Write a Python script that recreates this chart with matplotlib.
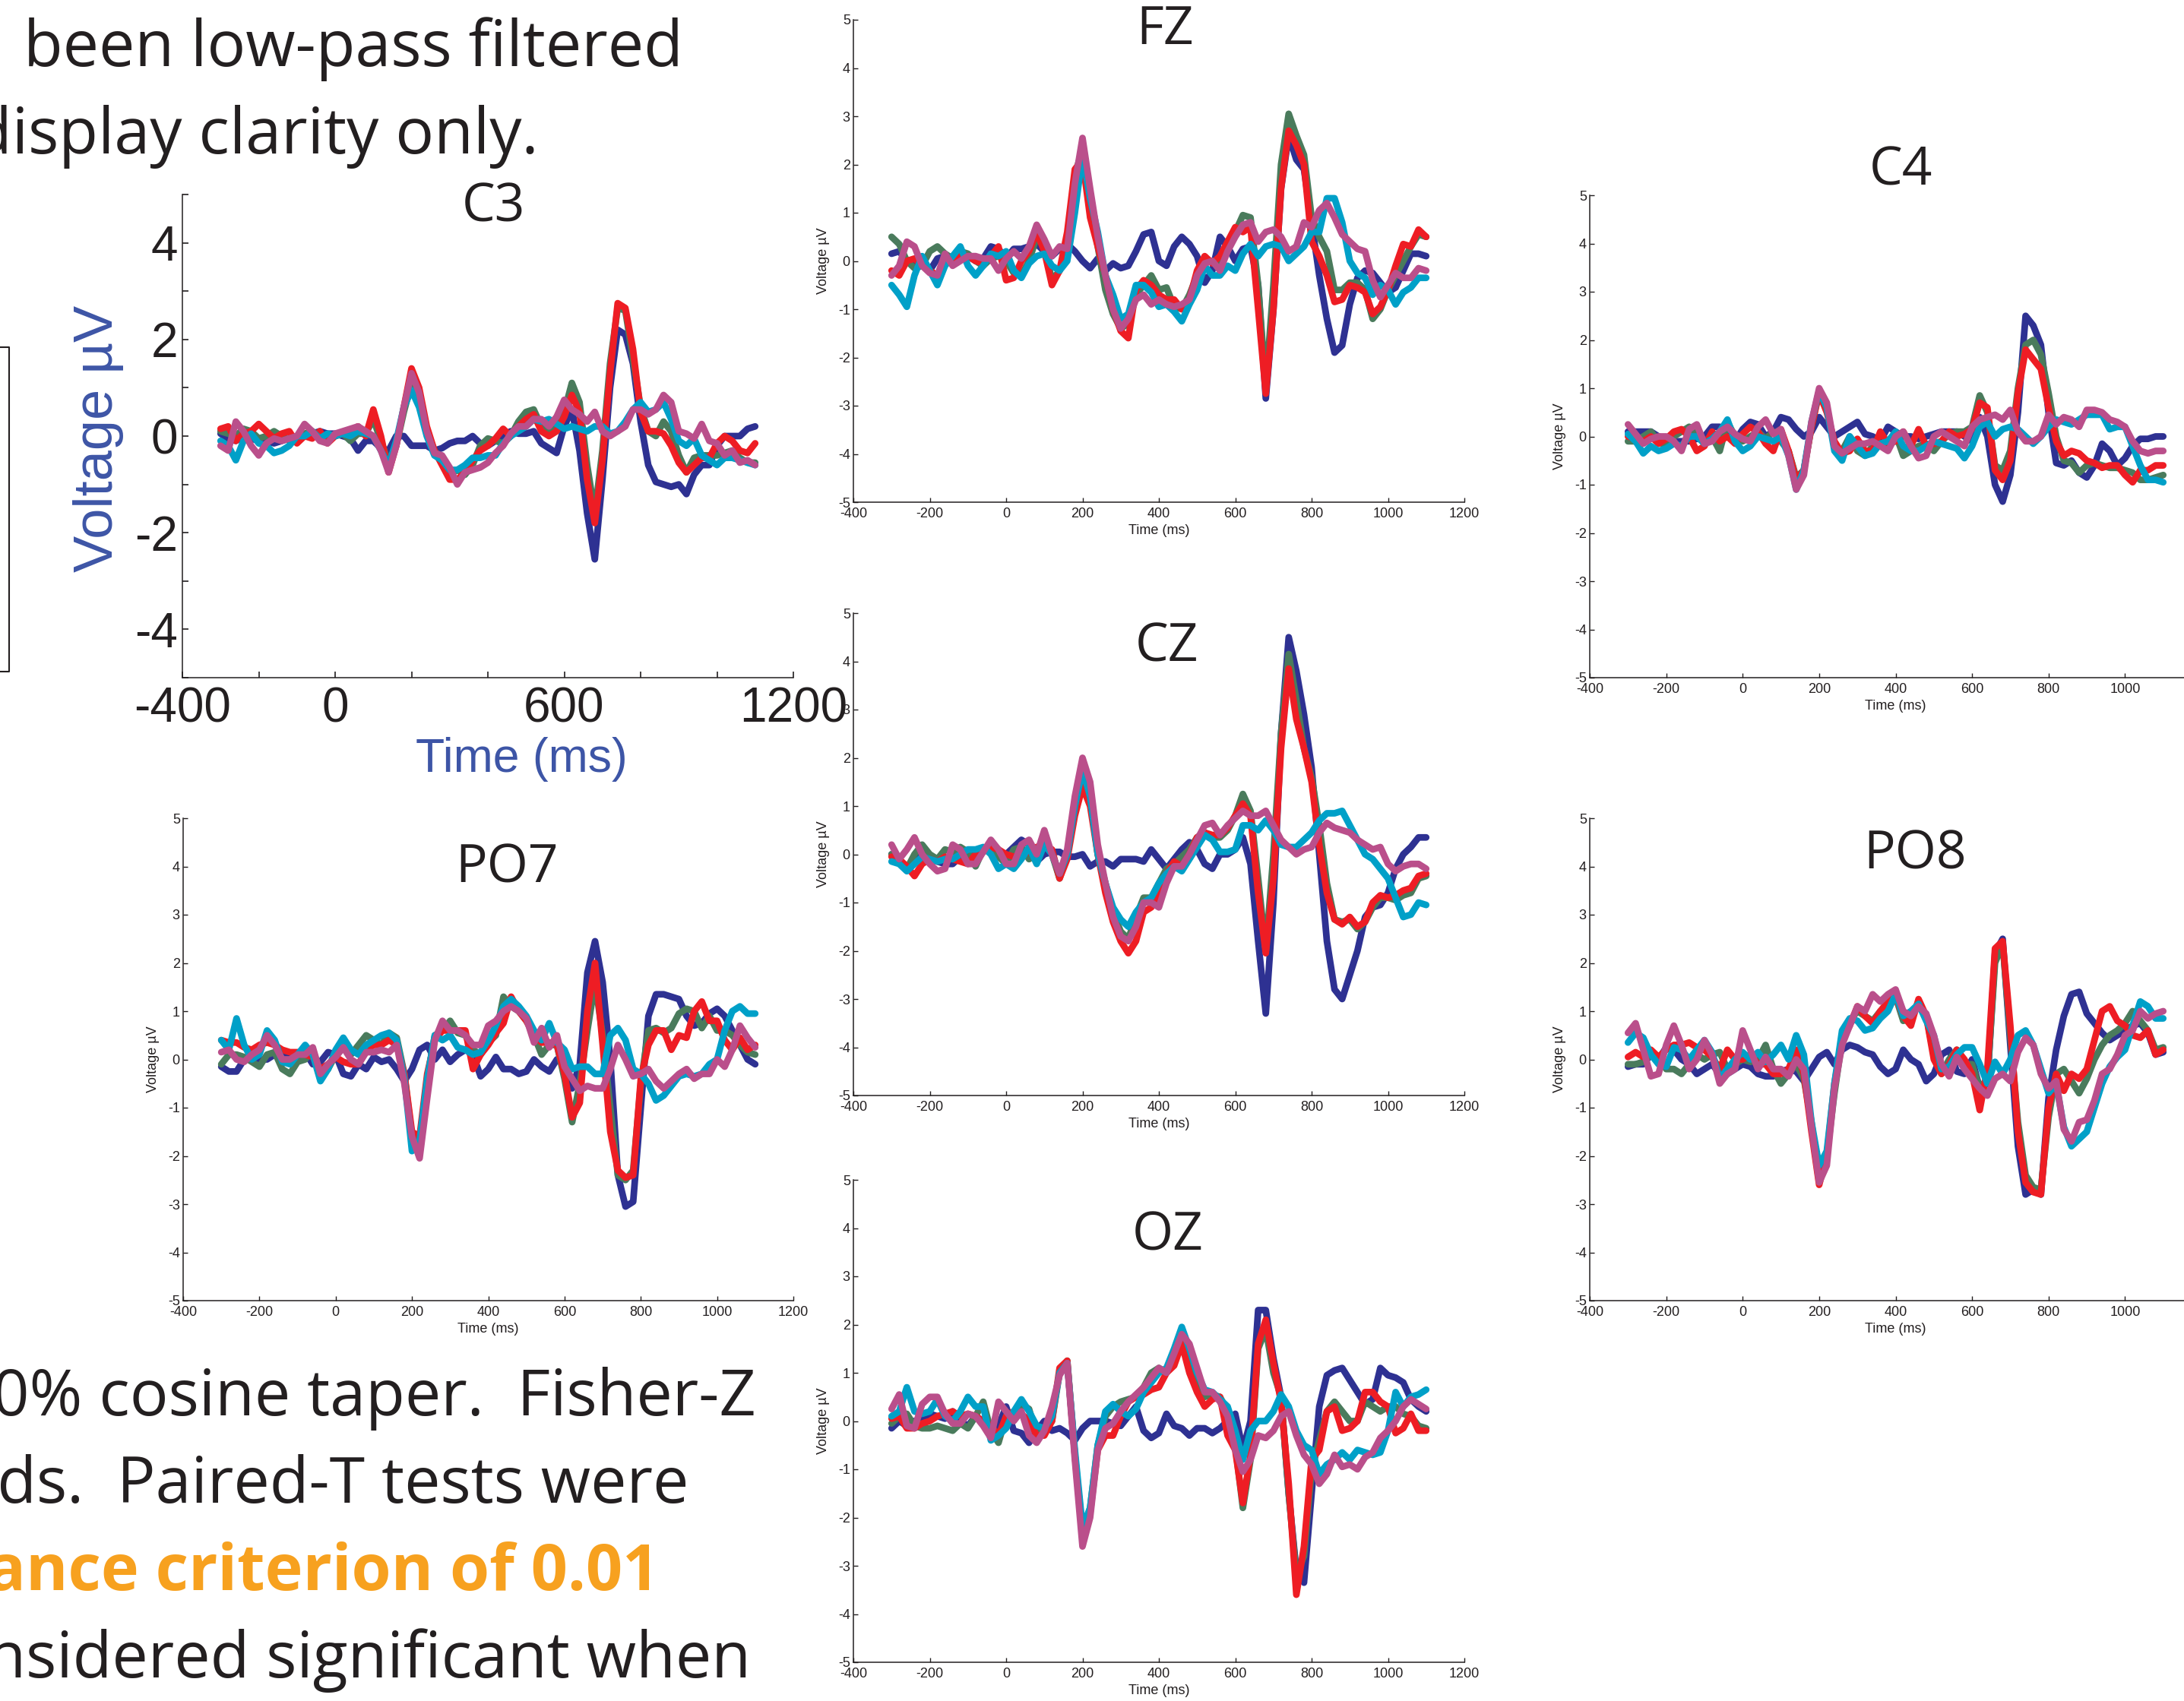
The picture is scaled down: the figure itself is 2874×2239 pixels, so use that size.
import numpy as np
import matplotlib
matplotlib.use('Agg')
import matplotlib.pyplot as plt
from matplotlib.lines import Line2D

W, H = 2874, 2239
plt.rcParams['axes.unicode_minus'] = False
plt.rcParams['font.family'] = ['Liberation Sans', 'DejaVu Sans']

# ---------------- data ----------------
time_ms = np.arange(-300, 1101, 20)

# FZ
FZ_blue = [0.15, 0.2, 0.0, -0.1, 0.0, -0.2, 0.05, 0.1, 0.05, 0.15,
           0.1, 0.0, 0.05, 0.3, 0.25, 0.05, 0.25, 0.25, 0.3, 0.35,
           0.2, 0.1, 0.25, 0.35, 0.2, 0.0, -0.15, 0.05, -0.2, -0.05,
           -0.15, -0.1, 0.2, 0.55, 0.6, 0.0, -0.1, 0.3, 0.5, 0.35,
           0.1, -0.45, -0.2, 0.5, 0.3, 0.0, 0.25, 0.3, -0.5, -2.85,
           -1.0, 1.5, 2.6, 2.1, 1.9, 0.8, -0.3, -1.2, -1.9, -1.75,
           -0.9, -0.35, -0.2, -0.25, -0.45, -0.65, -0.55, -0.2, 0.15, 0.15, 0.1]
FZ_green = [0.5, 0.35, 0.0, -0.15, -0.1, 0.2, 0.3, 0.15, 0.05, 0.2,
            0.15, 0.0, -0.1, 0.05, 0.1, 0.0, -0.25, -0.3, 0.0, 0.5,
            0.3, -0.4, -0.2, 0.3, 1.8, 2.3, 1.2, 0.3, -0.6, -1.1,
            -1.4, -1.3, -0.7, -0.5, -0.3, -0.6, -0.55, -0.95, -1.0, -0.7,
            -0.3, 0.0, 0.0, -0.1, 0.3, 0.6, 0.95, 0.9, -0.5, -2.6,
            -0.5, 2.0, 3.05, 2.6, 2.2, 0.9, 0.5, 0.2, -0.6, -0.6,
            -0.45, -0.45, -0.6, -1.2, -1.0, -0.6, -0.3, 0.0, 0.3, 0.55, 0.5]
FZ_red = [-0.2, -0.3, 0.0, 0.05, -0.1, -0.2, -0.3, -0.05, 0.05, 0.1,
          0.1, 0.0, -0.05, 0.1, 0.3, -0.4, -0.35, 0.0, 0.2, 0.6,
          0.2, -0.5, -0.2, 0.6, 1.9, 2.1, 0.9, 0.3, -0.3, -1.0,
          -1.45, -1.6, -0.6, -0.4, -0.5, -0.7, -0.8, -0.8, -1.0, -0.8,
          -0.2, 0.1, -0.05, 0.1, 0.4, 0.7, 0.6, 0.7, -1.0, -2.75,
          -1.0, 1.5, 2.7, 2.4, 2.0, 0.4, 0.1, -0.3, -0.85, -0.8,
          -0.5, -0.55, -0.65, -1.1, -0.95, -0.6, -0.1, 0.35, 0.3, 0.65, 0.5]
FZ_cyan = [-0.5, -0.7, -0.95, -0.3, 0.1, -0.2, -0.5, -0.1, 0.1, 0.3,
           -0.1, -0.3, -0.1, 0.15, 0.1, 0.2, -0.2, -0.35, -0.05, 0.1,
           0.15, -0.1, -0.2, 0.0, 1.0, 2.2, 1.3, 0.6, -0.3, -0.7,
           -1.2, -1.1, -0.5, -0.5, -0.65, -0.95, -0.9, -1.05, -1.25, -0.9,
           -0.6, -0.1, -0.3, -0.3, -0.1, -0.2, 0.15, 0.35, 0.1, 0.3,
           0.35, 0.3, 0.0, 0.15, 0.3, 0.6, 0.6, 1.3, 1.3, 0.8,
           0.0, -0.25, -0.35, -0.7, -0.5, -0.6, -0.9, -0.65, -0.55, -0.35, -0.35]
FZ_magenta = [-0.3, -0.1, 0.4, 0.3, -0.1, -0.25, -0.3, 0.15, -0.1, 0.0,
              0.1, 0.1, 0.05, 0.05, -0.2, 0.05, 0.2, 0.05, 0.3, 0.75,
              0.45, 0.1, 0.3, 0.25, 1.6, 2.55, 1.5, 0.5, -0.3, -1.0,
              -1.4, -1.2, -0.8, -0.7, -0.9, -0.8, -0.9, -0.95, -0.9, -0.8,
              -0.3, -0.05, 0.0, -0.2, 0.2, 0.5, 0.75, 0.8, 0.4, 0.6,
              0.65, 0.5, 0.2, 0.3, 0.8, 0.7, 1.05, 1.2, 0.9, 0.55,
              0.4, 0.25, 0.2, -0.4, -0.75, -0.5, -0.25, -0.35, -0.35, -0.15, -0.2]

# C3
C3_blue = [0.05, -0.05, -0.1, 0.0, -0.05, -0.1, -0.1, -0.15, -0.1, -0.05,
           0.0, 0.0, 0.05, 0.1, 0.05, 0.05, 0.0, -0.05, -0.3, -0.1,
           -0.1, -0.25, -0.3, 0.0, 0.0, -0.2, -0.2, -0.2, -0.3, -0.25,
           -0.15, -0.1, -0.1, 0.0, -0.15, -0.2, -0.1, 0.0, 0.1, 0.05,
           0.05, 0.1, -0.15, -0.25, -0.35, 0.2, 0.55, -0.3, -1.6, -2.55,
           -0.9, 1.0, 2.2, 2.1, 1.5, 0.3, -0.6, -0.95, -1.0, -1.05,
           -1.0, -1.2, -0.8, -0.6, -0.6, -0.2, 0.0, 0.0, 0.0, 0.15, 0.2]
C3_green = [0.1, 0.05, 0.0, 0.15, 0.1, -0.05, 0.0, 0.1, 0.0, -0.1,
            -0.05, 0.05, 0.1, 0.0, -0.05, 0.0, 0.05, -0.1, 0.05, 0.05,
            0.35, -0.1, -0.55, -0.2, 0.5, 1.1, 0.8, 0.1, -0.3, -0.5,
            -0.8, -0.7, -0.8, -0.6, -0.2, -0.05, -0.1, -0.15, 0.0, 0.3,
            0.5, 0.55, 0.2, 0.05, 0.2, 0.5, 1.1, 0.7, -0.6, -1.6,
            -0.3, 1.5, 2.65, 2.6, 1.6, 0.6, 0.1, 0.0, 0.3, 0.1,
            -0.4, -0.75, -0.45, -0.4, -0.4, -0.4, -0.35, -0.3, -0.45, -0.55, -0.55]
C3_red = [0.15, 0.2, -0.1, 0.05, 0.1, 0.25, 0.1, -0.05, 0.05, 0.1,
          -0.15, 0.0, -0.05, 0.1, -0.15, 0.0, 0.05, 0.1, 0.2, 0.0,
          0.55, 0.0, -0.75, -0.2, 0.6, 1.4, 1.0, 0.2, -0.3, -0.6,
          -0.9, -0.9, -0.75, -0.5, -0.3, -0.2, -0.05, 0.15, 0.0, 0.2,
          0.35, 0.45, 0.1, 0.0, 0.1, 0.4, 0.85, 0.5, -0.9, -1.8,
          -0.5, 1.3, 2.75, 2.65, 1.8, 0.5, 0.1, 0.1, 0.05, -0.2,
          -0.55, -0.75, -0.6, -0.45, -0.45, -0.15, 0.0, -0.1, -0.3, -0.35, -0.15]
C3_cyan = [-0.1, -0.2, -0.5, -0.1, 0.05, -0.15, -0.2, -0.35, -0.3, -0.2,
           0.0, 0.0, 0.1, -0.05, 0.05, 0.0, 0.05, 0.0, 0.1, 0.05,
           0.0, -0.3, -0.6, -0.1, 0.6, 0.95, 0.6, 0.0, -0.4, -0.5,
           -0.7, -0.7, -0.6, -0.45, -0.45, -0.4, -0.4, -0.15, 0.0, 0.1,
           0.2, 0.35, 0.3, 0.35, 0.25, 0.15, 0.2, 0.15, 0.1, 0.2,
           0.2, 0.05, 0.1, 0.3, 0.55, 0.7, 0.5, 0.55, 0.7, 0.35,
           -0.1, -0.2, -0.05, -0.4, -0.5, -0.6, -0.45, -0.45, -0.5, -0.55, -0.6]
C3_magenta = [-0.2, -0.3, 0.3, 0.1, -0.2, -0.4, -0.15, -0.05, -0.1, -0.05,
              0.0, 0.25, 0.1, -0.1, -0.15, 0.05, 0.1, 0.15, 0.2, 0.1,
              0.0, -0.3, -0.75, -0.2, 0.6, 1.3, 0.9, 0.1, -0.35, -0.4,
              -0.65, -1.0, -0.75, -0.7, -0.65, -0.55, -0.35, -0.2, 0.05, 0.2,
              0.2, 0.35, 0.35, 0.2, 0.4, 0.75, 0.55, 0.45, 0.3, 0.5,
              0.1, 0.0, 0.1, 0.2, 0.55, 0.55, 0.45, 0.55, 0.85, 0.7,
              0.1, 0.05, -0.05, 0.25, -0.1, -0.15, -0.4, -0.3, -0.55, -0.5, -0.6]

# C4
C4_blue = [0.1, 0.1, 0.1, 0.1, 0.0, -0.05, -0.1, -0.1, -0.1, -0.05,
           0.0, 0.2, 0.2, 0.0, -0.1, 0.15, 0.3, 0.25, 0.0, 0.1,
           0.4, 0.35, 0.15, 0.0, 0.1, 0.4, 0.2, 0.0, 0.1, 0.2,
           0.3, 0.05, 0.0, -0.1, 0.2, 0.1, 0.0, 0.0, -0.05, 0.0,
           0.05, 0.1, 0.1, 0.1, 0.0, -0.1, 0.4, 0.0, -1.0, -1.35,
           -0.8, 0.5, 2.5, 2.3, 1.9, 0.5, -0.55, -0.6, -0.5, -0.75,
           -0.85, -0.6, -0.15, -0.3, -0.6, -0.45, -0.2, -0.05, -0.05, 0.0, 0.0]
C4_green = [-0.1, -0.1, 0.0, 0.1, -0.1, -0.2, 0.0, 0.1, 0.2, 0.0,
            -0.1, 0.0, -0.3, 0.3, 0.0, -0.1, 0.0, 0.1, -0.05, 0.1,
            -0.1, -0.3, -0.85, -0.7, 0.2, 0.95, 0.6, -0.2, -0.3, 0.0,
            -0.3, -0.4, -0.2, -0.15, -0.1, 0.05, -0.4, -0.3, -0.2, -0.15,
            -0.3, -0.1, 0.05, 0.1, 0.1, 0.2, 0.85, 0.5, -0.6, -0.7,
            -0.3, 1.0, 1.9, 2.0, 1.7, 0.9, 0.0, -0.5, -0.55, -0.75,
            -0.6, -0.55, -0.6, -0.65, -0.65, -0.7, -0.75, -0.9, -0.9, -0.85, -0.8]
C4_red = [0.0, -0.05, -0.1, 0.0, -0.15, -0.05, 0.1, 0.15, 0.0, -0.3,
          -0.2, 0.1, -0.1, 0.0, -0.15, 0.05, 0.2, 0.1, -0.15, -0.3,
          0.15, -0.3, -0.9, -0.7, 0.2, 0.9, 0.5, -0.1, -0.35, -0.3,
          -0.05, -0.3, -0.3, 0.1, -0.15, -0.1, 0.1, -0.2, 0.15, -0.2,
          -0.15, -0.1, 0.1, 0.0, 0.05, 0.15, 0.7, 0.6, -0.7, -0.9,
          -0.5, 0.9, 1.8, 1.6, 1.4, 0.6, -0.1, -0.4, -0.3, -0.35,
          -0.5, -0.55, -0.65, -0.6, -0.6, -0.8, -0.95, -0.7, -0.7, -0.6, -0.6]
C4_cyan = [0.05, -0.1, -0.35, -0.2, -0.3, -0.25, -0.15, -0.2, 0.0, 0.0,
           -0.15, -0.05, 0.1, 0.35, -0.1, -0.3, -0.2, 0.0, -0.05, -0.1,
           0.0, -0.4, -1.1, -0.7, 0.3, 0.95, 0.6, -0.3, -0.5, 0.0,
           -0.2, -0.4, -0.35, -0.15, -0.1, 0.1, -0.2, -0.3, -0.3, -0.2,
           -0.1, -0.15, -0.2, -0.25, -0.45, -0.2, 0.2, 0.3, 0.0, 0.15,
           0.2, 0.15, 0.0, -0.15, 0.0, 0.2, 0.35, 0.3, 0.25, 0.35,
           0.45, 0.45, 0.45, 0.15, 0.2, 0.2, -0.2, -0.6, -0.9, -0.9, -0.95]
C4_magenta = [0.25, 0.05, -0.15, -0.05, 0.0, 0.0, -0.1, -0.3, 0.15, 0.25,
              -0.15, -0.1, 0.1, 0.2, 0.05, -0.05, -0.1, 0.2, 0.35, 0.05,
              0.15, -0.4, -1.1, -0.8, 0.3, 1.0, 0.7, -0.2, -0.35, -0.25,
              -0.15, -0.15, -0.1, -0.2, -0.3, 0.0, 0.1, -0.2, -0.45, -0.4,
              0.0, 0.1, 0.0, -0.1, -0.2, 0.2, 0.35, 0.4, 0.45, 0.35,
              0.55, 0.1, -0.1, -0.1, 0.0, 0.45, 0.25, 0.4, 0.35, 0.2,
              0.55, 0.55, 0.5, 0.35, 0.3, 0.2, -0.1, -0.3, -0.35, -0.3, -0.3]

# CZ
CZ_blue = [0.0, -0.15, -0.3, -0.1, 0.05, -0.05, -0.15, -0.2, -0.2, -0.05,
           0.0, 0.05, 0.1, 0.1, 0.05, 0.0, 0.15, 0.3, 0.2, -0.15,
           0.0, 0.05, 0.05, -0.05, -0.05, 0.0, -0.25, -0.15, -0.15, -0.25,
           -0.1, -0.1, -0.1, -0.15, 0.1, -0.1, -0.3, -0.1, 0.1, 0.25,
           0.1, -0.2, -0.3, 0.0, 0.0, 0.1, 0.35, -0.2, -1.8, -3.3,
           -1.0, 2.5, 4.5, 3.8, 2.9, 1.8, 0.0, -1.8, -2.8, -3.0,
           -2.5, -2.0, -1.3, -1.1, -1.05, -0.8, -0.3, 0.0, 0.15, 0.35, 0.35]
CZ_green = [0.0, -0.15, -0.3, 0.0, 0.2, 0.0, -0.1, 0.1, 0.05, 0.15,
            0.05, -0.25, 0.1, 0.1, -0.05, -0.2, 0.1, 0.15, -0.1, 0.0,
            0.3, 0.0, -0.5, 0.0, 1.0, 1.8, 1.2, 0.0, -0.6, -1.2,
            -1.6, -1.75, -1.3, -0.9, -0.9, -0.6, -0.3, -0.2, -0.05, 0.1,
            0.35, 0.45, 0.35, 0.35, 0.5, 0.8, 1.25, 0.9, -0.5, -2.0,
            0.0, 2.5, 4.15, 3.2, 2.2, 1.6, 0.6, -0.6, -1.35, -1.4,
            -1.35, -1.55, -1.4, -1.1, -0.9, -0.9, -0.95, -0.85, -0.8, -0.5, -0.45]
CZ_red = [-0.05, -0.1, -0.25, -0.45, -0.2, -0.1, -0.15, -0.05, -0.1, -0.15,
          -0.2, 0.0, 0.05, 0.15, 0.1, 0.0, -0.05, 0.0, 0.05, 0.15,
          0.2, 0.1, -0.5, -0.1, 0.8, 1.4, 1.0, 0.0, -0.8, -1.4,
          -1.8, -2.05, -1.8, -1.2, -1.1, -0.8, -0.4, -0.15, -0.25, 0.0,
          0.35, 0.45, 0.4, 0.4, 0.55, 0.8, 1.05, 0.8, -0.8, -2.05,
          -0.5, 2.2, 3.85, 2.8, 2.2, 1.5, 0.2, -0.8, -1.35, -1.45,
          -1.3, -1.5, -1.4, -1.0, -0.85, -0.9, -0.85, -0.75, -0.7, -0.45, -0.4]
CZ_cyan = [-0.15, -0.2, -0.35, -0.2, -0.05, -0.1, -0.15, -0.1, -0.1, 0.0,
           0.1, 0.1, 0.15, 0.0, -0.3, -0.2, -0.3, -0.1, 0.15, -0.2,
           0.2, 0.0, -0.4, 0.0, 1.0, 1.75, 1.2, 0.0, -0.6, -1.1,
           -1.35, -1.5, -1.2, -1.0, -0.9, -0.6, -0.4, -0.25, -0.35, -0.1,
           0.15, 0.4, 0.3, 0.05, 0.05, 0.1, 0.6, 0.6, 0.5, 0.7,
           0.5, 0.2, 0.15, 0.15, 0.3, 0.45, 0.7, 0.85, 0.85, 0.9,
           0.6, 0.3, 0.0, -0.1, -0.3, -0.5, -0.9, -1.3, -1.25, -1.0, -1.05]
CZ_magenta = [0.2, -0.1, 0.1, 0.35, 0.0, -0.2, -0.35, -0.3, 0.2, 0.1,
              -0.2, -0.2, 0.05, 0.3, 0.1, -0.2, -0.2, 0.2, 0.3, 0.0,
              0.5, 0.0, -0.4, 0.1, 1.2, 2.0, 1.5, 0.2, -0.6, -1.3,
              -1.7, -1.8, -1.5, -1.0, -1.0, -1.1, -0.6, -0.25, -0.25, 0.0,
              0.3, 0.6, 0.65, 0.4, 0.6, 0.75, 0.9, 0.8, 0.8, 0.9,
              0.6, 0.3, 0.15, 0.0, 0.1, 0.15, 0.45, 0.65, 0.55, 0.5,
              0.45, 0.3, 0.2, 0.1, 0.15, -0.2, -0.35, -0.25, -0.2, -0.2, -0.3]

# PO7
PO7_blue = [-0.15, -0.25, -0.25, 0.0, 0.1, 0.0, 0.0, 0.1, 0.1, 0.05,
            0.0, 0.15, -0.1, -0.05, 0.15, 0.1, -0.3, -0.35, -0.1, -0.2,
            0.05, -0.05, 0.0, -0.2, -0.45, -0.2, 0.2, 0.3, 0.0, 0.2,
            -0.05, 0.1, 0.2, 0.1, -0.35, -0.2, 0.05, -0.2, -0.2, -0.3,
            -0.25, 0.0, -0.15, -0.25, 0.0, -0.1, -0.6, -0.1, 1.8, 2.45,
            1.6, 0.0, -2.4, -3.05, -2.95, -1.0, 0.9, 1.35, 1.35, 1.3,
            1.25, 0.9, 0.7, 0.75, 0.95, 1.05, 0.9, 0.6, 0.3, 0.0, -0.1]
PO7_green = [-0.1, 0.1, 0.1, 0.05, -0.05, -0.15, 0.1, 0.15, -0.2, -0.3,
             -0.05, 0.0, 0.2, -0.3, -0.2, 0.1, 0.25, 0.1, 0.3, 0.5,
             0.4, 0.3, 0.55, 0.45, -0.3, -1.6, -1.7, -0.4, 0.5, 0.6,
             0.8, 0.55, 0.5, 0.2, 0.1, 0.35, 0.5, 1.3, 1.1, 1.0,
             0.8, 0.5, 0.1, 0.3, 0.3, -0.4, -1.3, -0.5, 0.6, 1.6,
             0.5, -1.0, -2.4, -2.5, -2.3, -0.5, 0.6, 0.65, 0.55, 0.65,
             0.95, 1.05, 1.0, 0.65, 0.9, 0.6, 0.6, 0.5, 0.3, 0.15, 0.1]
PO7_red = [0.4, 0.35, 0.35, 0.25, 0.2, 0.3, 0.35, 0.3, 0.2, 0.15,
           0.15, 0.1, 0.05, -0.2, -0.1, 0.05, -0.05, -0.1, -0.1, 0.2,
           0.3, 0.3, 0.4, 0.3, -0.3, -1.5, -1.6, -0.3, 0.4, 0.6,
           0.6, 0.6, 0.6, -0.2, 0.1, 0.3, 0.55, 0.75, 1.3, 1.0,
           0.8, 0.5, 0.35, 0.35, 0.3, -0.3, -1.2, -0.9, 1.0, 2.0,
           0.3, -1.5, -2.3, -2.45, -2.4, -0.4, 0.3, 0.6, 0.6, 0.2,
           0.5, 0.45, 1.0, 1.2, 0.8, 0.8, 0.4, 0.2, 0.45, 0.2, 0.3]
PO7_cyan = [0.4, 0.2, 0.85, 0.3, 0.0, 0.1, 0.6, 0.4, -0.05, -0.1,
            0.1, 0.3, 0.1, -0.45, -0.2, 0.2, 0.45, 0.2, 0.1, 0.3,
            0.4, 0.5, 0.55, 0.4, -0.4, -1.9, -1.7, -0.4, 0.5, 0.4,
            0.5, 0.25, 0.2, 0.1, 0.15, 0.4, 0.7, 1.1, 1.25, 1.1,
            0.9, 0.6, 0.4, 0.75, 0.35, 0.2, -0.2, -0.15, -0.15, -0.3,
            -0.3, 0.5, 0.65, 0.4, -0.2, -0.3, -0.5, -0.85, -0.75, -0.55,
            -0.35, -0.3, -0.35, -0.3, -0.1, 0.0, 0.6, 1.0, 1.1, 0.95, 0.95]
PO7_magenta = [0.15, 0.2, 0.0, -0.05, 0.1, 0.2, 0.5, 0.3, 0.0, 0.0,
               0.1, 0.1, 0.25, -0.3, -0.1, 0.05, 0.25, 0.0, -0.1, 0.15,
               0.15, 0.2, 0.15, 0.3, -0.5, -1.6, -2.05, -0.8, 0.4, 0.8,
               0.6, 0.6, 0.5, 0.3, 0.3, 0.7, 0.8, 1.0, 1.1, 1.0,
               0.85, 0.35, 0.65, 0.25, 0.5, -0.15, -0.4, -0.65, -0.55, -0.6,
               -0.6, -0.2, 0.3, 0.0, -0.35, -0.3, -0.2, -0.45, -0.6, -0.45,
               -0.3, -0.2, -0.4, -0.3, -0.3, 0.0, -0.15, 0.2, 0.7, 0.45, 0.25]

# PO8
PO8_blue = [-0.15, -0.1, -0.1, 0.1, 0.0, 0.25, 0.2, 0.0, -0.1, -0.3,
            -0.2, -0.1, -0.3, -0.3, -0.2, -0.1, -0.15, -0.3, -0.35, -0.35,
            -0.25, -0.2, -0.25, -0.45, -0.2, 0.05, 0.15, -0.1, 0.2, 0.3,
            0.25, 0.15, 0.1, -0.15, -0.3, -0.2, 0.2, 0.0, -0.1, -0.45,
            -0.3, 0.1, 0.2, -0.25, -0.3, 0.0, -0.6, -0.5, 2.2, 2.5,
            0.3, -1.8, -2.8, -2.7, -2.8, -0.8, 0.2, 0.9, 1.35, 1.4,
            0.95, 0.75, 0.55, 0.4, 0.5, 0.6, 0.7, 0.75, 0.55, 0.1, 0.15]
PO8_green = [-0.1, -0.1, -0.05, 0.1, 0.05, -0.2, -0.2, -0.3, -0.1, 0.1,
             0.0, 0.1, 0.15, -0.2, -0.1, 0.0, -0.05, 0.0, 0.3, -0.2,
             -0.5, -0.3, -0.1, -0.4, -1.3, -2.5, -2.0, -0.7, 0.4, 0.8,
             1.0, 0.9, 0.8, 1.0, 1.1, 1.3, 0.8, 0.85, 1.2, 0.9,
             0.1, -0.3, 0.0, 0.2, -0.1, -0.1, -0.6, -0.4, 2.0, 2.4,
             0.5, -1.3, -2.4, -2.65, -2.7, -1.2, -0.3, -0.2, -0.45, -0.7,
             -0.4, 0.0, 0.3, 0.5, 0.6, 0.75, 1.0, 0.8, 0.6, 0.2, 0.25]
PO8_red = [0.05, 0.15, 0.05, 0.2, 0.05, 0.2, 0.3, 0.3, 0.35, 0.25,
           0.2, 0.05, -0.2, 0.2, 0.0, 0.0, 0.1, -0.1, -0.1, -0.3,
           -0.3, -0.2, 0.2, -0.3, -1.5, -2.6, -2.0, -0.5, 0.4, 0.7,
           1.1, 0.9, 0.75, 1.0, 1.2, 1.3, 0.9, 0.7, 1.25, 0.9,
           0.0, -0.3, -0.1, 0.2, 0.0, -0.3, -1.05, -0.2, 2.3, 2.45,
           0.7, -1.5, -2.55, -2.75, -2.8, -1.0, -0.3, -0.65, -0.3, -0.4,
           -0.2, 0.4, 1.0, 1.1, 0.8, 0.7, 0.5, 0.45, 0.6, 0.1, 0.2]
PO8_cyan = [0.35, 0.55, 0.45, 0.1, -0.1, -0.15, 0.25, 0.2, 0.0, 0.2,
            0.4, 0.15, -0.4, -0.2, 0.0, 0.15, 0.0, 0.15, -0.05, 0.1,
            0.3, 0.0, 0.5, 0.1, -1.3, -2.2, -1.9, -0.5, 0.6, 0.85,
            0.8, 0.6, 0.65, 0.85, 1.0, 1.35, 0.9, 1.0, 1.15, 0.8,
            0.5, -0.2, -0.15, 0.1, 0.25, 0.25, -0.1, -0.5, -0.05, -0.3,
            0.0, 0.5, 0.6, 0.3, -0.2, -0.7, -0.5, -1.4, -1.8, -1.65,
            -1.5, -1.0, -0.5, -0.15, 0.05, 0.2, 0.7, 1.2, 1.1, 0.85, 0.85]
PO8_magenta = [0.55, 0.75, 0.2, -0.35, -0.3, 0.3, 0.7, 0.3, -0.2, 0.0,
               0.4, 0.1, -0.5, -0.3, -0.2, 0.6, 0.2, -0.2, 0.05, -0.2,
               -0.2, -0.35, 0.0, -0.2, -1.4, -2.55, -2.2, -0.6, 0.3, 0.7,
               1.1, 1.0, 1.35, 1.2, 1.35, 1.45, 1.0, 0.9, 1.1, 0.95,
               0.5, -0.1, -0.35, 0.05, -0.2, -0.4, -0.6, -0.75, -0.4, -0.3,
               -0.45, 0.15, 0.45, 0.3, -0.3, -0.6, -0.45, -1.45, -1.7, -1.3,
               -1.25, -0.85, -0.3, -0.2, 0.1, 0.5, 0.6, 1.0, 0.85, 0.95, 1.0]

# OZ
OZ_blue = [-0.15, 0.0, -0.1, 0.0, 0.05, 0.15, 0.1, 0.05, 0.2, 0.0,
           -0.1, 0.1, 0.0, -0.25, -0.1, 0.3, -0.2, -0.25, -0.45, -0.2,
           0.0, -0.2, -0.15, -0.25, -0.4, -0.15, 0.0, 0.0, 0.0, -0.05,
           -0.1, 0.1, 0.3, -0.2, -0.35, -0.25, 0.15, -0.1, -0.15, -0.3,
           -0.15, -0.15, -0.25, -0.15, 0.0, 0.15, -0.6, 0.0, 2.3, 2.3,
           1.3, 0.5, -1.5, -3.1, -3.35, -1.5, 0.3, 0.95, 1.05, 1.1,
           0.85, 0.6, 0.35, 0.45, 1.1, 0.95, 0.9, 0.8, 0.45, 0.3, 0.2]
OZ_green = [-0.05, 0.1, 0.15, -0.1, -0.15, -0.15, -0.1, -0.15, -0.2, -0.05,
            -0.15, 0.1, 0.4, -0.2, -0.45, 0.1, 0.1, 0.35, 0.25, -0.3,
            -0.2, 0.0, 1.0, 1.25, -0.7, -2.3, -1.8, -0.5, 0.1, 0.3,
            0.4, 0.45, 0.5, 0.7, 1.0, 1.1, 1.0, 1.3, 1.8, 1.5,
            0.8, 0.5, 0.55, 0.5, 0.2, -0.5, -1.8, -0.8, 1.5, 1.9,
            1.0, 0.5, -1.5, -3.2, -2.8, -1.0, -0.4, 0.2, 0.4, 0.2,
            0.0, 0.0, 0.4, 0.3, 0.2, 0.3, 0.3, 0.15, 0.1, -0.1, -0.15]
OZ_red = [0.05, 0.1, -0.15, -0.15, -0.05, 0.0, 0.1, 0.15, 0.2, 0.1,
          0.15, 0.1, 0.0, -0.1, -0.3, 0.1, 0.2, 0.15, 0.0, -0.3,
          -0.3, 0.0, 1.1, 1.25, -0.7, -2.4, -1.9, -0.6, -0.3, -0.3,
          0.1, 0.4, 0.5, 0.55, 0.65, 0.7, 1.0, 1.15, 1.6, 1.0,
          0.6, 0.3, 0.45, 0.5, -0.3, -0.6, -1.7, -0.7, 1.6, 2.1,
          1.2, 0.4, -1.3, -3.6, -2.6, -0.8, -0.6, 0.2, 0.3, -0.2,
          -0.15, 0.0, 0.6, 0.6, 0.4, 0.3, -0.25, -0.15, 0.15, -0.2, -0.2]
OZ_cyan = [0.1, 0.2, 0.7, 0.2, 0.15, 0.2, 0.45, 0.1, 0.0, 0.2,
           0.5, 0.3, 0.3, -0.4, -0.3, -0.15, 0.2, 0.45, 0.2, -0.1,
           -0.15, 0.1, 1.0, 1.2, -0.6, -2.2, -1.8, -0.5, 0.2, 0.35,
           0.2, 0.1, 0.25, 0.6, 0.8, 1.0, 1.1, 1.5, 1.95, 1.5,
           1.0, 0.65, 0.6, 0.45, 0.3, -0.2, -0.8, -0.2, 0.0, 0.0,
           0.2, 0.55, 0.3, -0.2, -0.5, -0.6, -1.1, -0.9, -0.8, -0.65,
           -0.8, -0.6, -0.65, -0.7, -0.65, -0.2, 0.6, 0.3, 0.5, 0.55, 0.65]
OZ_magenta = [0.25, 0.55, -0.1, -0.15, 0.35, 0.5, 0.5, 0.15, -0.05, -0.05,
              0.15, 0.1, -0.1, -0.35, 0.4, 0.2, 0.0, 0.2, -0.3, -0.45,
              -0.2, 0.3, 0.95, 1.2, -0.8, -2.6, -2.0, -0.6, -0.15, -0.05,
              0.2, 0.4, 0.55, 0.7, 0.9, 1.1, 1.0, 1.4, 1.8, 1.6,
              1.1, 0.6, 0.6, 0.4, 0.1, -0.6, -1.05, -0.8, -0.3, -0.35,
              -0.2, 0.1, 0.2, -0.3, -0.7, -0.9, -1.3, -1.1, -0.7, -0.95,
              -0.9, -1.0, -0.75, -0.65, -0.35, -0.2, 0.0, 0.3, 0.45, 0.35, 0.25]

series_colors = ['#2E3192', '#4A7B5C', '#EE1D24', '#00A0C8', '#BA4F8B']

channel_data = {
    'C3': [C3_blue, C3_green, C3_red, C3_cyan, C3_magenta],
    'FZ': [FZ_blue, FZ_green, FZ_red, FZ_cyan, FZ_magenta],
    'C4': [C4_blue, C4_green, C4_red, C4_cyan, C4_magenta],
    'CZ': [CZ_blue, CZ_green, CZ_red, CZ_cyan, CZ_magenta],
    'PO7': [PO7_blue, PO7_green, PO7_red, PO7_cyan, PO7_magenta],
    'PO8': [PO8_blue, PO8_green, PO8_red, PO8_cyan, PO8_magenta],
    'OZ': [OZ_blue, OZ_green, OZ_red, OZ_cyan, OZ_magenta],
}

# ---------------- layout (pixels) ----------------
boxes = {
    'C3': (240, 1044, 256, 892),
    'FZ': (1123, 1927, 26, 661),
    'C4': (2092, 2897, 257, 892),
    'CZ': (1123, 1927, 807, 1442),
    'PO7': (241, 1044, 1077, 1712),
    'PO8': (2092, 2897, 1077, 1712),
    'OZ': (1123, 1927, 1553, 2188),
}
title_pos = {
    'C3': (650, 292), 'FZ': (1533, 58), 'C4': (2502, 244), 'CZ': (1535, 871),
    'PO7': (667, 1162), 'PO8': (2520, 1143), 'OZ': (1537, 1646),
}

TITLE_FONT = ['Open Sans', 'DejaVu Sans']
INK = '#231F20'

fig = plt.figure(figsize=(W / 100, H / 100), dpi=100)
fig.patch.set_facecolor('white')


def fx(x):
    return x / W


def fy(y):
    return 1 - y / H


axes = {}
for name, (x0, x1, yt, yb) in boxes.items():
    ax = fig.add_axes([fx(x0), fy(yb), (x1 - x0) / W, (yb - yt) / H])
    ax.set_facecolor('none')
    for vals, col in zip(channel_data[name], series_colors):
        ax.plot(time_ms, vals, color=col, lw=6.3, solid_joinstyle='round',
                solid_capstyle='round')
    ax.set_xlim(-400, 1200)
    ax.set_ylim(-5, 5)
    ax.spines[['top', 'right']].set_visible(False)
    ax.spines[['left', 'bottom']].set_linewidth(1.1)
    ax.spines[['left', 'bottom']].set_color(INK)
    ax.set_xticks(range(-400, 1201, 200))
    ax.set_yticks(range(-5, 6))
    if name == 'C3':
        ax.set_xticklabels(['-400', '', '0', '', '', '600', '', '', '1200'])
        ax.set_yticklabels(['', '-4', '', '-2', '', '0', '', '2', '', '4', ''])
        ax.tick_params(direction='in', length=6, width=1.2, labelsize=46,
                       colors=INK)
        ax.tick_params(axis='x', pad=8)
        ax.tick_params(axis='y', pad=4)
    else:
        ax.set_xticklabels([str(v) for v in range(-400, 1201, 200)])
        ax.set_yticklabels([str(v) for v in range(-5, 6)])
        ax.tick_params(direction='in', length=4, width=1.0, labelsize=13,
                       colors=INK)
        ax.tick_params(axis='x', pad=5)
        ax.tick_params(axis='y', pad=3)
        ax.set_xlabel('Time (ms)', fontsize=13, color=INK)
        ax.set_ylabel('Voltage \u00b5V', fontsize=13, color=INK)
        ax.xaxis.set_label_coords(0.5, -0.045)
        ax.yaxis.set_label_coords(-0.038, 0.5)
    axes[name] = ax
    tx, ty = title_pos[name]
    fig.text(fx(tx), fy(ty), name, fontsize=50, family=TITLE_FONT,
             ha='center', va='baseline', color=INK)

# C3 big axis labels (blue)
LABEL_BLUE = '#3D55A6'
fig.text(fx(686), fy(1016), 'Time (ms)', fontsize=45, color=LABEL_BLUE,
         ha='center', va='baseline')
fig.text(fx(148), fy(577), 'Voltage \u00b5V', fontsize=52, color=LABEL_BLUE,
         rotation=90, rotation_mode='anchor', ha='center', va='baseline')

# partial box at the left edge
box_x = [fx(-10), fx(12), fx(12), fx(-10)]
box_y = [fy(457), fy(457), fy(884), fy(884)]
fig.add_artist(Line2D(box_x, box_y, transform=fig.transFigure, color=INK, lw=1.5))

# poster text
POSTER_FONT = ['Open Sans', 'DejaVu Sans']
probe = fig.text(fx(31), fy(87), 'been low-pass filtered', fontsize=60,
                 family=POSTER_FONT, ha='left', va='baseline', color=INK)
fig.canvas.draw()
renderer = fig.canvas.get_renderer()
w = probe.get_window_extent(renderer).width
fs = 60 * 867.0 / w
probe.set_fontsize(fs)

fig.text(fx(709), fy(202), 'display clarity only.', fontsize=fs,
         family=POSTER_FONT, ha='right', va='baseline', color=INK)
fig.text(fx(995), fy(1863), '10% cosine taper.  Fisher-Z', fontsize=fs,
         family=POSTER_FONT, ha='right', va='baseline', color=INK)
fig.text(fx(906), fy(1978), 'bands.  Paired-T tests were', fontsize=fs,
         family=POSTER_FONT, ha='right', va='baseline', color=INK)
fig.text(fx(867), fy(2093), 'significance criterion of 0.01', fontsize=fs,
         family=POSTER_FONT, ha='right', va='baseline', color='#F7A11F',
         fontweight='bold')
fig.text(fx(988), fy(2208), 'considered significant when', fontsize=fs,
         family=POSTER_FONT, ha='right', va='baseline', color=INK)

fig.savefig('out.png', dpi=100, facecolor='white')
